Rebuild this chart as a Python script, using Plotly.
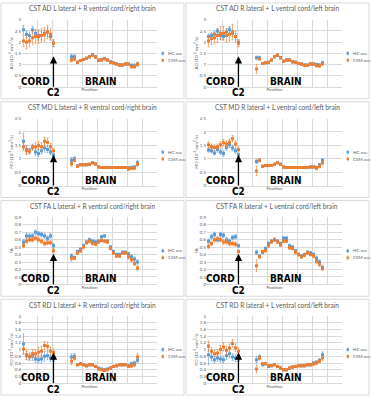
import plotly.graph_objects as go

W, H = 371, 400

# category positions: 11 cord levels, then 23 brain levels
POS = list(range(1, 12)) + list(range(17, 40))

# ---------------- AD ----------------
AD_L_HC = [2.55, 2.35, 2.3, 2.55, 2.4, 2.3, 2.3, 2.4, 2.45, 2.25, 1.95,
           1.35, 1.35, 1.1, 1.18, 1.22, 1.28, 1.35, 1.45, 1.35, 1.2, 1.22, 1.27,
           1.2, 1.12, 1.08, 1.03, 0.98, 0.98, 1.03, 1.02, 0.96, 0.95, 1.03]
AD_L_CSM = [2.05, 2.0, 2.05, 2.2, 2.25, 2.25, 2.3, 2.35, 2.45, 2.35, 1.95,
            1.2, 1.25, 1.1, 1.18, 1.22, 1.28, 1.35, 1.42, 1.33, 1.18, 1.2, 1.25,
            1.2, 1.1, 1.07, 1.02, 0.98, 0.98, 1.03, 1.02, 0.9, 0.9, 1.0]
AD_L_HC_ERR = [0.2, 0.15, 0.15, 0.15, 0.15, 0.2, 0.2, 0.15, 0.2, 0.15, 0.15,
               0.1, 0.1, 0.05, 0.05, 0.05, 0.05, 0.05, 0.05, 0.05, 0.05, 0.05, 0.05,
               0.05, 0.05, 0.05, 0.05, 0.05, 0.05, 0.05, 0.05, 0.08, 0.08, 0.08]
AD_L_CSM_ERR = [0.25, 0.3, 0.25, 0.3, 0.3, 0.3, 0.3, 0.3, 0.3, 0.25, 0.15,
                0.08, 0.08, 0.04, 0.04, 0.04, 0.04, 0.04, 0.04, 0.04, 0.04, 0.04, 0.04,
                0.04, 0.04, 0.04, 0.04, 0.04, 0.04, 0.04, 0.04, 0.06, 0.06, 0.08]

AD_R_HC = [2.25, 2.3, 2.35, 2.5, 2.3, 2.25, 2.45, 2.55, 2.4, 2.25, 2.0,
           1.3, 1.3, 1.05, 1.08, 1.1, 1.2, 1.35, 1.42, 1.3, 1.15, 1.2, 1.2,
           1.12, 1.1, 1.05, 1.02, 0.98, 0.98, 1.03, 1.03, 1.0, 0.98, 1.08]
AD_R_CSM = [2.05, 2.15, 2.2, 2.3, 2.4, 2.4, 2.3, 2.35, 2.45, 2.25, 1.95,
            0.8, 1.25, 1.05, 1.08, 1.1, 1.2, 1.35, 1.42, 1.3, 1.15, 1.2, 1.2,
            1.12, 1.1, 1.05, 1.02, 0.97, 0.97, 1.02, 1.02, 0.95, 0.93, 1.03]
AD_R_HC_ERR = [0.12, 0.12, 0.15, 0.12, 0.15, 0.15, 0.15, 0.15, 0.15, 0.15, 0.12,
               0.08, 0.08, 0.05, 0.05, 0.05, 0.05, 0.05, 0.05, 0.05, 0.05, 0.05, 0.05,
               0.05, 0.05, 0.05, 0.05, 0.05, 0.05, 0.05, 0.05, 0.06, 0.06, 0.06]
AD_R_CSM_ERR = [0.25, 0.25, 0.25, 0.3, 0.3, 0.3, 0.3, 0.3, 0.35, 0.25, 0.15,
                0.2, 0.06, 0.04, 0.04, 0.04, 0.04, 0.04, 0.04, 0.04, 0.04, 0.04, 0.04,
                0.04, 0.04, 0.04, 0.04, 0.04, 0.04, 0.04, 0.04, 0.06, 0.06, 0.06]

# ---------------- MD ----------------
MD_L_HC = [1.65, 1.35, 1.3, 1.45, 1.25, 1.2, 1.3, 1.4, 1.35, 1.25, 1.12,
           0.95, 1.0, 0.74, 0.78, 0.78, 0.78, 0.8, 0.85, 0.82, 0.7, 0.68, 0.68,
           0.68, 0.68, 0.68, 0.68, 0.68, 0.68, 0.68, 0.66, 0.68, 0.7, 0.85]
MD_L_CSM = [1.45, 1.3, 1.28, 1.42, 1.45, 1.5, 1.45, 1.65, 1.62, 1.45, 1.3,
            0.82, 0.95, 0.72, 0.78, 0.78, 0.78, 0.8, 0.85, 0.8, 0.7, 0.68, 0.68,
            0.68, 0.68, 0.68, 0.68, 0.68, 0.68, 0.68, 0.62, 0.65, 0.65, 0.8]
MD_L_HC_ERR = [0.3, 0.15, 0.1, 0.1, 0.12, 0.12, 0.12, 0.15, 0.12, 0.1, 0.08,
               0.1, 0.08, 0.03, 0.03, 0.03, 0.03, 0.03, 0.03, 0.03, 0.03, 0.03, 0.03,
               0.03, 0.03, 0.03, 0.03, 0.03, 0.03, 0.03, 0.05, 0.05, 0.05, 0.08]
MD_L_CSM_ERR = [0.15, 0.15, 0.1, 0.1, 0.15, 0.15, 0.15, 0.15, 0.15, 0.12, 0.1,
                0.1, 0.06, 0.03, 0.03, 0.03, 0.03, 0.03, 0.03, 0.03, 0.03, 0.03, 0.03,
                0.03, 0.03, 0.03, 0.03, 0.03, 0.03, 0.03, 0.05, 0.05, 0.05, 0.08]

MD_R_HC = [1.33, 1.3, 1.22, 1.35, 1.25, 1.2, 1.42, 1.52, 1.4, 1.3, 1.15,
           0.9, 0.95, 0.72, 0.75, 0.75, 0.75, 0.8, 0.85, 0.8, 0.7, 0.68, 0.68,
           0.68, 0.68, 0.68, 0.68, 0.68, 0.68, 0.7, 0.7, 0.68, 0.78, 0.95]
MD_R_CSM = [1.52, 1.45, 1.42, 1.45, 1.52, 1.6, 1.55, 1.62, 1.75, 1.55, 1.35,
            0.55, 0.95, 0.72, 0.75, 0.75, 0.75, 0.8, 0.85, 0.8, 0.7, 0.68, 0.68,
            0.68, 0.68, 0.68, 0.68, 0.68, 0.68, 0.7, 0.7, 0.65, 0.72, 0.85]
MD_R_HC_ERR = [0.08, 0.08, 0.08, 0.1, 0.1, 0.1, 0.1, 0.1, 0.1, 0.08, 0.06,
               0.08, 0.06, 0.03, 0.03, 0.03, 0.03, 0.03, 0.03, 0.03, 0.03, 0.03, 0.03,
               0.03, 0.03, 0.03, 0.03, 0.03, 0.03, 0.03, 0.03, 0.05, 0.05, 0.05]
MD_R_CSM_ERR = [0.12, 0.1, 0.1, 0.1, 0.12, 0.12, 0.12, 0.12, 0.12, 0.12, 0.1,
                0.18, 0.06, 0.03, 0.03, 0.03, 0.03, 0.03, 0.03, 0.03, 0.03, 0.03, 0.03,
                0.03, 0.03, 0.03, 0.03, 0.03, 0.03, 0.03, 0.03, 0.06, 0.06, 0.08]

# ---------------- FA ----------------
FA_L_HC = [0.57, 0.65, 0.65, 0.65, 0.7, 0.68, 0.67, 0.65, 0.62, 0.65, 0.52,
           0.38, 0.36, 0.44, 0.47, 0.52, 0.57, 0.6, 0.58, 0.57, 0.58, 0.64, 0.65,
           0.58, 0.5, 0.44, 0.4, 0.4, 0.43, 0.43, 0.41, 0.37, 0.34, 0.3]
FA_L_CSM = [0.52, 0.58, 0.6, 0.6, 0.62, 0.6, 0.58, 0.55, 0.56, 0.56, 0.45,
            0.35, 0.35, 0.42, 0.45, 0.5, 0.56, 0.58, 0.55, 0.54, 0.57, 0.59, 0.58,
            0.57, 0.48, 0.42, 0.38, 0.38, 0.42, 0.42, 0.37, 0.33, 0.28, 0.22]
FA_L_HC_ERR = [0.03, 0.04, 0.03, 0.03, 0.03, 0.03, 0.03, 0.03, 0.03, 0.03, 0.03,
               0.03, 0.02, 0.02, 0.02, 0.02, 0.02, 0.02, 0.02, 0.02, 0.02, 0.02, 0.02,
               0.02, 0.02, 0.02, 0.02, 0.02, 0.02, 0.02, 0.02, 0.03, 0.03, 0.03]
FA_L_CSM_ERR = [0.03, 0.03, 0.03, 0.03, 0.03, 0.03, 0.03, 0.03, 0.03, 0.03, 0.03,
                0.04, 0.02, 0.02, 0.02, 0.02, 0.02, 0.02, 0.02, 0.02, 0.02, 0.02, 0.02,
                0.02, 0.02, 0.02, 0.02, 0.02, 0.02, 0.02, 0.03, 0.03, 0.03, 0.03]

FA_R_HC = [0.58, 0.64, 0.67, 0.6, 0.67, 0.66, 0.6, 0.58, 0.63, 0.64, 0.52,
           0.43, 0.38, 0.43, 0.48, 0.55, 0.58, 0.6, 0.58, 0.55, 0.62, 0.62, 0.52,
           0.5, 0.45, 0.4, 0.38, 0.4, 0.43, 0.42, 0.4, 0.35, 0.3, 0.23]
FA_R_CSM = [0.51, 0.55, 0.6, 0.61, 0.6, 0.57, 0.57, 0.55, 0.55, 0.54, 0.44,
            0.25, 0.37, 0.44, 0.45, 0.52, 0.57, 0.6, 0.57, 0.53, 0.58, 0.58, 0.49,
            0.48, 0.43, 0.4, 0.37, 0.39, 0.42, 0.4, 0.38, 0.31, 0.27, 0.21]
FA_R_HC_ERR = [0.03, 0.03, 0.03, 0.03, 0.03, 0.03, 0.03, 0.03, 0.03, 0.03, 0.02,
               0.03, 0.02, 0.02, 0.02, 0.02, 0.02, 0.02, 0.02, 0.02, 0.02, 0.02, 0.02,
               0.02, 0.02, 0.02, 0.02, 0.02, 0.02, 0.02, 0.02, 0.03, 0.03, 0.03]
FA_R_CSM_ERR = [0.03, 0.03, 0.03, 0.03, 0.03, 0.03, 0.03, 0.03, 0.03, 0.03, 0.02,
                0.08, 0.02, 0.02, 0.02, 0.02, 0.02, 0.02, 0.02, 0.02, 0.02, 0.02, 0.02,
                0.02, 0.02, 0.02, 0.02, 0.02, 0.02, 0.02, 0.02, 0.03, 0.03, 0.02]

# ---------------- RD ----------------
RD_L_HC = [1.17, 0.82, 0.78, 0.8, 0.72, 0.7, 0.72, 0.8, 0.82, 0.75, 0.72,
           0.78, 0.8, 0.55, 0.58, 0.55, 0.52, 0.55, 0.55, 0.5, 0.45, 0.42, 0.4,
           0.42, 0.45, 0.5, 0.52, 0.55, 0.55, 0.55, 0.52, 0.58, 0.6, 0.68]
RD_L_CSM = [1.02, 0.85, 0.8, 0.88, 0.88, 0.92, 0.95, 1.12, 1.1, 0.95, 0.92,
            0.65, 0.75, 0.55, 0.58, 0.55, 0.52, 0.55, 0.55, 0.5, 0.42, 0.4, 0.38,
            0.4, 0.45, 0.5, 0.52, 0.55, 0.55, 0.55, 0.5, 0.52, 0.55, 0.78]
RD_L_HC_ERR = [0.3, 0.12, 0.1, 0.12, 0.1, 0.1, 0.12, 0.15, 0.12, 0.1, 0.08,
               0.1, 0.08, 0.03, 0.03, 0.03, 0.03, 0.03, 0.03, 0.03, 0.03, 0.03, 0.03,
               0.03, 0.03, 0.03, 0.03, 0.03, 0.03, 0.03, 0.04, 0.05, 0.05, 0.08]
RD_L_CSM_ERR = [0.15, 0.15, 0.1, 0.12, 0.12, 0.15, 0.15, 0.12, 0.12, 0.12, 0.1,
                0.1, 0.06, 0.03, 0.03, 0.03, 0.03, 0.03, 0.03, 0.03, 0.03, 0.03, 0.03,
                0.03, 0.03, 0.03, 0.03, 0.03, 0.03, 0.03, 0.04, 0.05, 0.05, 0.1]

RD_R_HC = [0.85, 0.78, 0.7, 0.75, 0.72, 0.7, 0.82, 0.88, 0.78, 0.75, 0.72,
           0.7, 0.78, 0.55, 0.58, 0.5, 0.52, 0.55, 0.5, 0.45, 0.4, 0.4, 0.45,
           0.48, 0.5, 0.52, 0.52, 0.52, 0.55, 0.55, 0.6, 0.62, 0.68, 0.85]
RD_R_CSM = [1.1, 0.95, 0.88, 0.9, 1.0, 1.08, 0.98, 1.05, 1.18, 1.05, 0.95,
            0.42, 0.75, 0.58, 0.58, 0.52, 0.52, 0.55, 0.5, 0.45, 0.4, 0.4, 0.45,
            0.48, 0.5, 0.52, 0.52, 0.52, 0.55, 0.55, 0.57, 0.6, 0.65, 0.75]
RD_R_HC_ERR = [0.3, 0.12, 0.1, 0.1, 0.1, 0.1, 0.12, 0.12, 0.1, 0.1, 0.08,
               0.1, 0.06, 0.03, 0.03, 0.03, 0.03, 0.03, 0.03, 0.03, 0.03, 0.03, 0.03,
               0.03, 0.03, 0.03, 0.03, 0.03, 0.03, 0.03, 0.04, 0.05, 0.05, 0.08]
RD_R_CSM_ERR = [0.15, 0.12, 0.1, 0.1, 0.12, 0.12, 0.12, 0.12, 0.12, 0.12, 0.1,
                0.12, 0.06, 0.03, 0.03, 0.03, 0.03, 0.03, 0.03, 0.03, 0.03, 0.03, 0.03,
                0.03, 0.03, 0.03, 0.03, 0.03, 0.03, 0.03, 0.04, 0.05, 0.05, 0.08]

AD_TICKS = [0, 0.5, 1, 1.5, 2, 2.5, 3]
MD_TICKS = [0, 0.5, 1, 1.5, 2, 2.5]
FA_TICKS = [0, 0.1, 0.2, 0.3, 0.4, 0.5, 0.6, 0.7, 0.8, 0.9]
RD_TICKS = [0, 0.2, 0.4, 0.6, 0.8, 1, 1.2, 1.4, 1.6, 1.8, 2]

UNIT = " (10<sup>-3</sup> mm<sup>2</sup>/s)"
TITLES = [
    "CST AD L lateral + R ventral cord/right brain",
    "CST AD R lateral + L ventral cord/left brain",
    "CST MD L lateral + R ventral cord/right brain",
    "CST MD R lateral + L ventral cord/left brain",
    "CST FA L lateral + R ventral cord/right brain",
    "CST FA R lateral + L ventral cord/left brain",
    "CST RD L lateral + R ventral cord/right brain",
    "CST RD R lateral + L ventral cord/left brain",
]
YTITLES = ["AD" + UNIT, "AD" + UNIT, "MD" + UNIT, "MD" + UNIT, "FA", "FA", "RD" + UNIT, "RD" + UNIT]
TICKS = [AD_TICKS, AD_TICKS, MD_TICKS, MD_TICKS, FA_TICKS, FA_TICKS, RD_TICKS, RD_TICKS]
HC = [AD_L_HC, AD_R_HC, MD_L_HC, MD_R_HC, FA_L_HC, FA_R_HC, RD_L_HC, RD_R_HC]
HC_ERR = [AD_L_HC_ERR, AD_R_HC_ERR, MD_L_HC_ERR, MD_R_HC_ERR, FA_L_HC_ERR, FA_R_HC_ERR, RD_L_HC_ERR, RD_R_HC_ERR]
CSM = [AD_L_CSM, AD_R_CSM, MD_L_CSM, MD_R_CSM, FA_L_CSM, FA_R_CSM, RD_L_CSM, RD_R_CSM]
CSM_ERR = [AD_L_CSM_ERR, AD_R_CSM_ERR, MD_L_CSM_ERR, MD_R_CSM_ERR, FA_L_CSM_ERR, FA_R_CSM_ERR, RD_L_CSM_ERR, RD_R_CSM_ERR]

BLUE = "#5B9BD5"
ORANGE = "#ED7D31"
GRID = "#D9D9D9"
TXT = "#595959"
FONT = "Lato, 'Liberation Sans', sans-serif"
BOLD = "'DejaVu Sans Condensed', Lato, 'Liberation Sans', sans-serif"
BIG = dict(size=10, color="black", family=BOLD, weight="bold")

fig = go.Figure()
shapes = []
annotations = []


def px(x):
    return x / W


def py(y):
    return 1 - y / H


for i in range(8):
    r, c = divmod(i, 2)
    ox = 0 if c == 0 else 185
    oy = 100 * r
    n = i + 1
    xa = "x" if n == 1 else f"x{n}"
    ya = "y" if n == 1 else f"y{n}"
    xk = "xaxis" if n == 1 else f"xaxis{n}"
    yk = "yaxis" if n == 1 else f"yaxis{n}"

    # chart area border
    shapes.append(dict(type="rect", xref="paper", yref="paper",
                       x0=px(ox + 1), x1=px(ox + 184), y0=py(oy + 98), y1=py(oy + 1),
                       line=dict(color=GRID, width=1), fillcolor="white", layer="below"))

    for vals, errs, col, name in ((HC[i], HC_ERR[i], BLUE, "HC ave"), (CSM[i], CSM_ERR[i], ORANGE, "CSM ave")):
        fig.add_trace(go.Scatter(
            x=POS, y=vals, mode="markers", name=name, showlegend=False,
            xaxis=xa, yaxis=ya,
            marker=dict(symbol="square", size=3, color=col),
            error_y=dict(type="data", array=errs, visible=True, color=col, thickness=0.6, width=1),
        ))

    ticks = TICKS[i]
    fig.update_layout(**{
        xk: dict(domain=[px(ox + 22), px(ox + 157)], range=[0.5, 45.5], anchor=ya,
                 tickvals=[0.5 + 5 * k for k in range(10)], showticklabels=False,
                 showgrid=True, gridcolor=GRID, gridwidth=0.7, zeroline=False,
                 showline=True, linecolor=GRID, linewidth=0.8, ticks="",
                 title=dict(text="Position", font=dict(size=4.5, color=TXT, family=FONT), standoff=1)),
        yk: dict(domain=[py(oy + 86), py(oy + 18)], range=[0, ticks[-1]], anchor=xa,
                 tickvals=ticks, ticktext=[f"{v:g}" for v in ticks],
                 tickfont=dict(size=4.5, color=TXT, family=FONT), ticks="",
                 showgrid=True, gridcolor=GRID, gridwidth=0.7, zeroline=False,
                 showline=False,
                 title=dict(text=YTITLES[i], font=dict(size=4.5, color=TXT, family=FONT), standoff=1)),
    })

    # chart title
    annotations.append(dict(text=TITLES[i], xref="paper", yref="paper",
                            x=px(ox + 92), y=py(oy + 6.5), showarrow=False,
                            xanchor="center", yanchor="middle",
                            font=dict(size=6.6, color=TXT, family=FONT)))
    # legend: small square marker + label
    for ly, col, name in ((52, BLUE, "HC ave"), (59, ORANGE, "CSM ave")):
        shapes.append(dict(type="rect", xref="paper", yref="paper",
                           x0=px(ox + 161.5), x1=px(ox + 164), y0=py(oy + ly + 1.25), y1=py(oy + ly - 1.25),
                           line=dict(width=0), fillcolor=col))
        shapes.append(dict(type="line", xref="paper", yref="paper",
                           x0=px(ox + 162.75), x1=px(ox + 162.75), y0=py(oy + ly + 2.5), y1=py(oy + ly - 2.5),
                           line=dict(width=0.5, color=col)))
        annotations.append(dict(text=name, xref="paper", yref="paper",
                                x=px(ox + 165.5), y=py(oy + ly), showarrow=False, xanchor="left", yanchor="middle",
                                font=dict(size=4.5, color=TXT, family=FONT)))
    # CORD / BRAIN labels
    annotations.append(dict(text="CORD", xref="paper", yref="paper",
                            x=px(ox + 35.5), y=py(oy + 80.5), showarrow=False,
                            xanchor="center", yanchor="middle", font=BIG))
    annotations.append(dict(text="BRAIN", xref="paper", yref="paper",
                            x=px(ox + 101), y=py(oy + 80.5), showarrow=False,
                            xanchor="center", yanchor="middle", font=BIG))
    # C2 label with arrow pointing up to the C2 level
    annotations.append(dict(text="C2", xref=xa, yref="paper", x=11, y=py(oy + 55),
                            showarrow=True, arrowhead=2, arrowsize=1.2, arrowwidth=1.2,
                            arrowcolor="black", ax=0, ay=36.5, standoff=0, borderpad=0,
                            font=BIG))

fig.update_layout(
    width=W, height=H,
    margin=dict(l=0, r=0, t=0, b=0),
    paper_bgcolor="white", plot_bgcolor="rgba(0,0,0,0)",
    shapes=shapes, annotations=annotations,
    showlegend=False,
)

fig.write_html("out.html", config={"displayModeBar": False},
               post_script="document.body.style.margin='0';")
